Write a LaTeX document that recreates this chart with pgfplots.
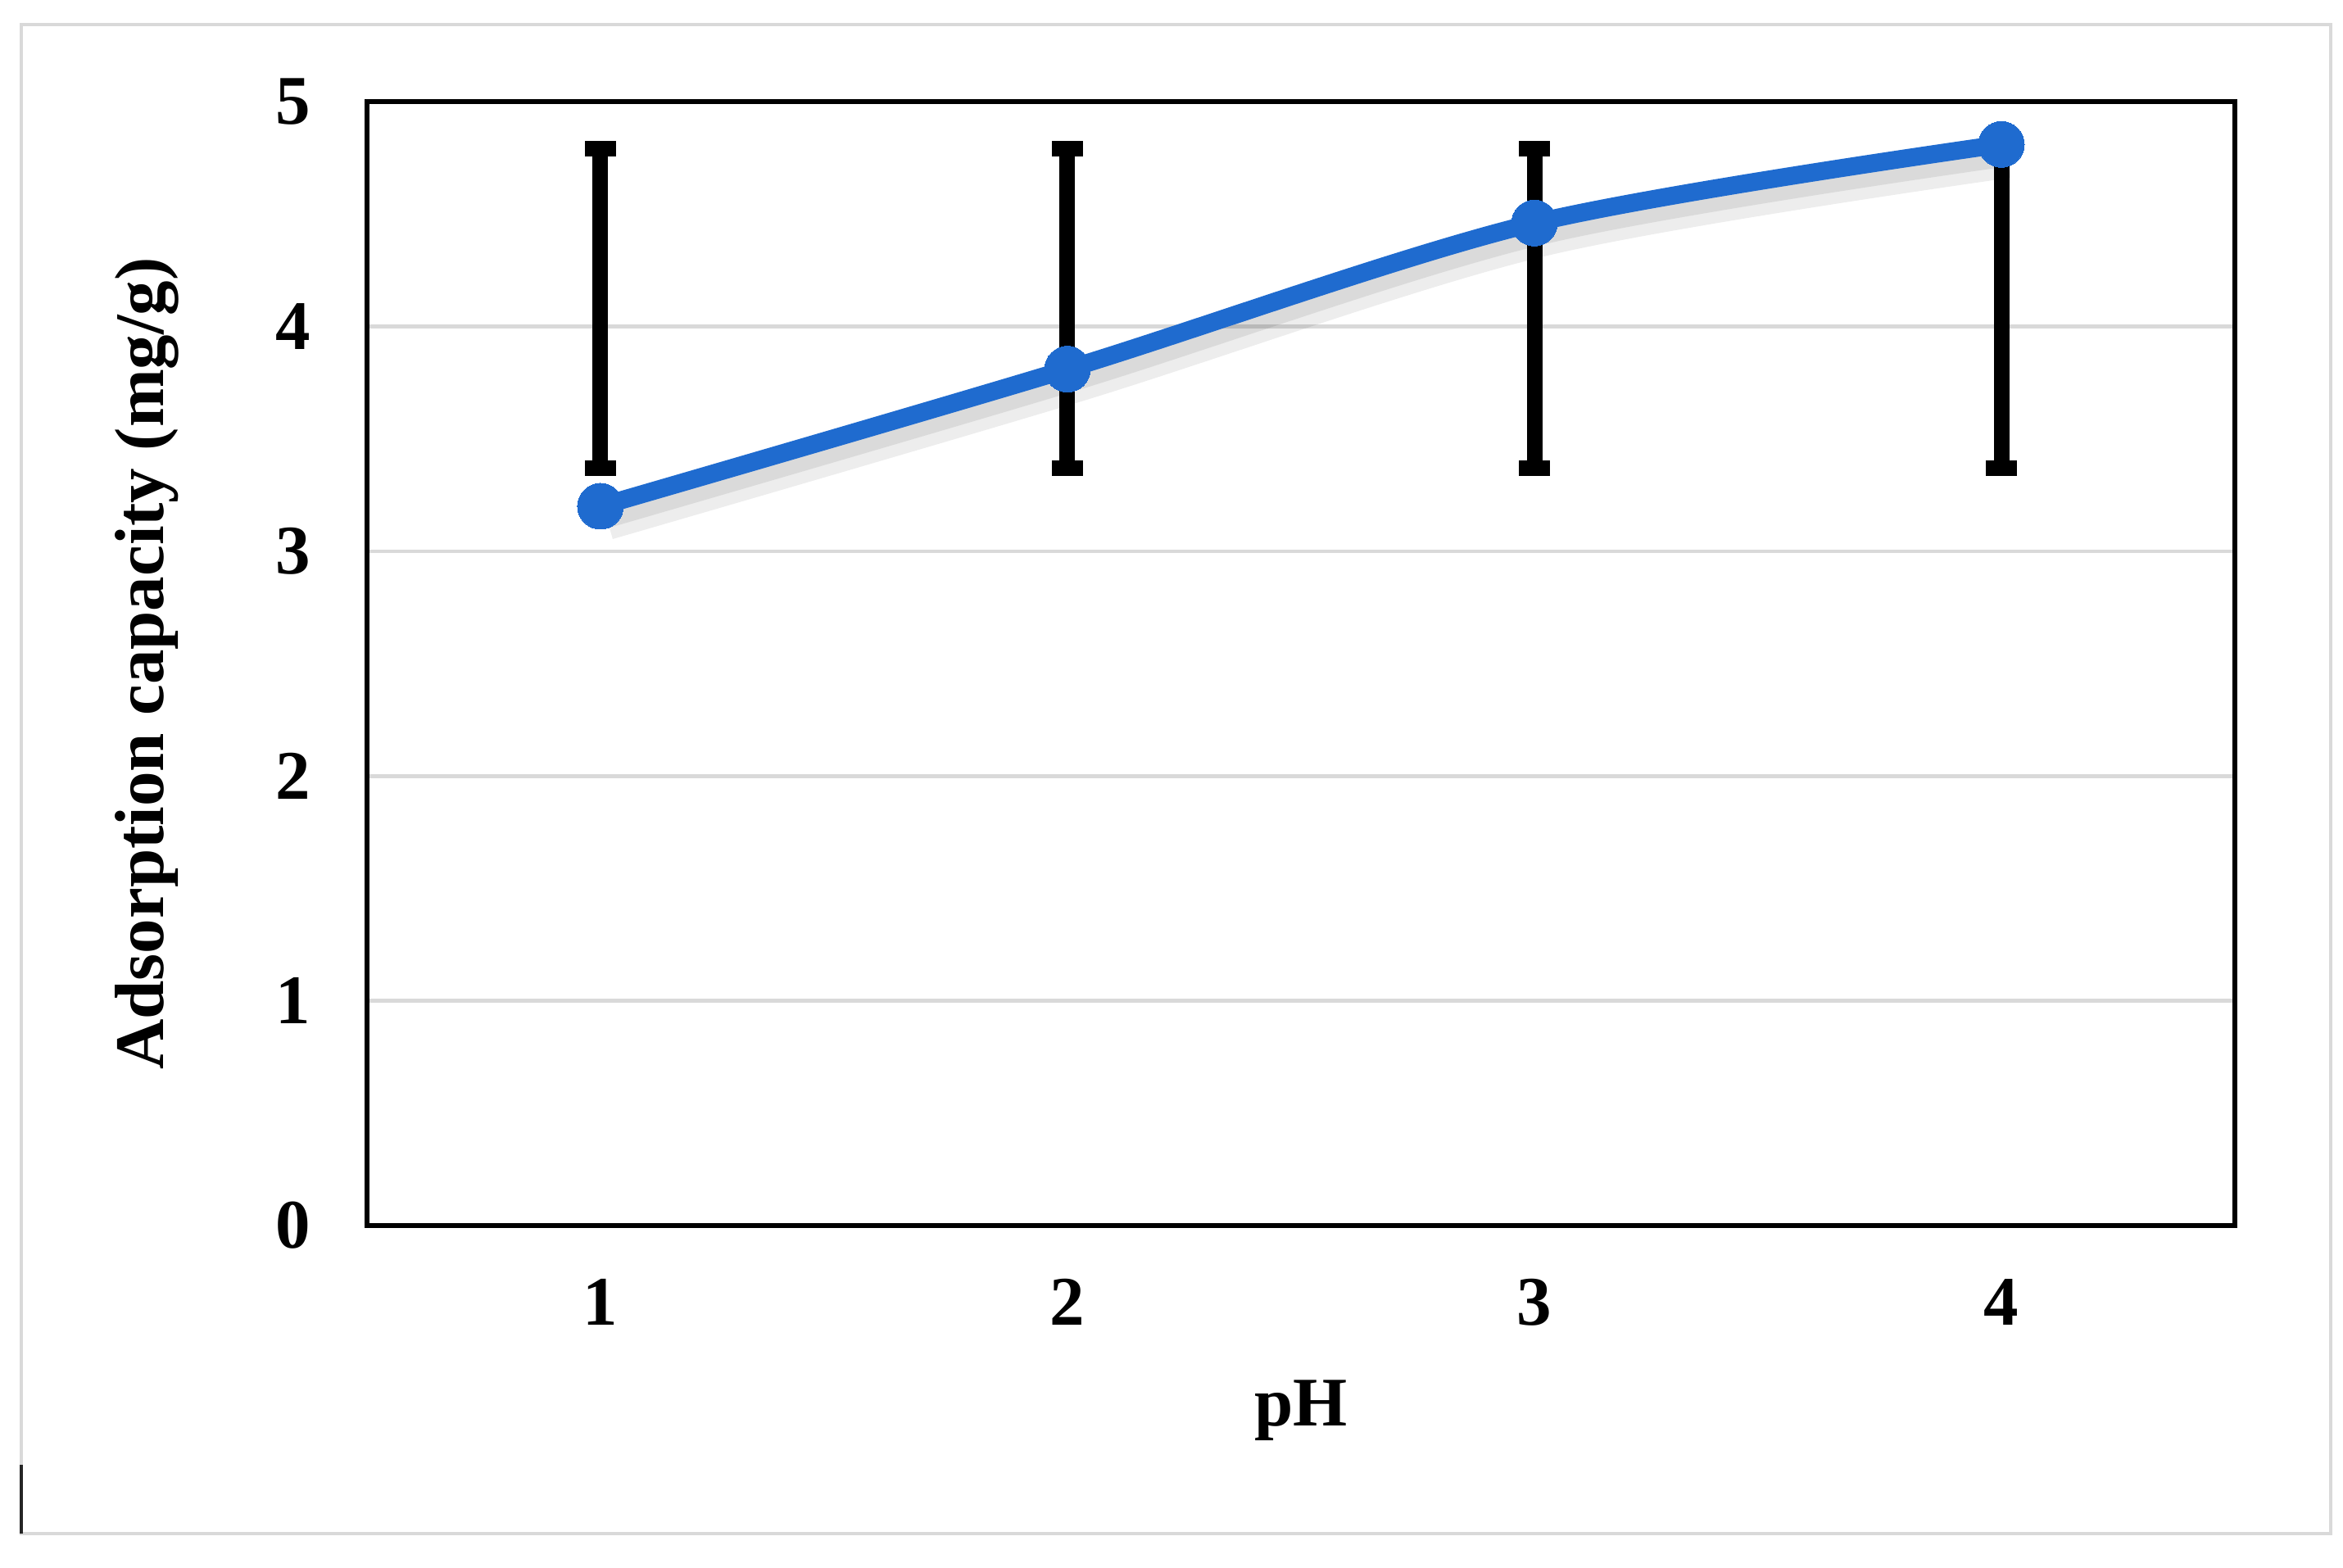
\documentclass[border=0pt]{standalone}
\usepackage{fontspec}
\setmainfont{Liberation Serif}
\usepackage{pgfplots}
\pgfplotsset{compat=1.18}
\definecolor{lineblue}{HTML}{1F6BCF}
\definecolor{gridgray}{HTML}{D9D9D9}

\begin{document}
\begin{tikzpicture}
\path[use as bounding box] (-44.8pt,-41.7pt) rectangle (241.2pt,149.6pt);
% outer chart-area frame
\draw[gridgray, line width=0.4pt] (-42.2pt,-37.6pt) rectangle (239.7pt,146.6pt);
\draw[black!85, line width=0.4pt] (-42.2pt,-37.6pt) -- (-42.2pt,-29.2pt);
\begin{axis}[
  at={(0pt,0pt)}, anchor=south west,
  scale only axis, width=228pt, height=137.2pt,
  xmin=0.5, xmax=4.5, ymin=0, ymax=5,
  xtick={1,2,3,4}, ytick={0,1,2,3,4,5},
  tick style={draw=none},
  ymajorgrids, grid style={gridgray, line width=0.45pt},
  axis line style={black, line width=0.65pt},
  font=\fontsize{8.5}{10}\selectfont\bfseries,
  /pgf/number format/assume math mode=true,
  xticklabel style={yshift=-3pt},
  yticklabel style={xshift=-3.4pt},
  xlabel={pH}, ylabel={Adsorption capacity (mg/g)},
  xlabel style={at={(axis description cs:0.5,-0.1778)}, anchor=base},
  ylabel style={at={(axis description cs:-0.109,0.5)}, anchor=base},
]
% error bars (same range at every pH)
\addplot[forget plot, draw=none, mark=none,
  error bars/.cd, y dir=both, y explicit,
  error bar style={black, line width=1.9pt},
  error mark=-,
  error mark options={rotate=90, black, line width=1.9pt, mark size=1.9pt}]
  coordinates {(1,4.08) +- (0,0.71) (2,4.08) +- (0,0.71) (3,4.08) +- (0,0.71) (4,4.08) +- (0,0.71)};
% soft shadow
\addplot[forget plot, black, opacity=0.07, line width=5pt, smooth, tension=0.5, xshift=0.8pt, yshift=-1.6pt]
  coordinates {(1,3.20) (2,3.81) (3,4.46) (4,4.81)};
\addplot[forget plot, black, opacity=0.08, line width=3pt, smooth, tension=0.5, xshift=0.6pt, yshift=-1.2pt]
  coordinates {(1,3.20) (2,3.81) (3,4.46) (4,4.81)};
\addplot[lineblue, line width=2.2pt, smooth, tension=0.5,
  mark=*, mark size=2.8pt, mark options={fill=lineblue, draw=lineblue, line width=0pt}]
  coordinates {(1,3.20) (2,3.81) (3,4.46) (4,4.81)};
\end{axis}
\end{tikzpicture}
\end{document}
